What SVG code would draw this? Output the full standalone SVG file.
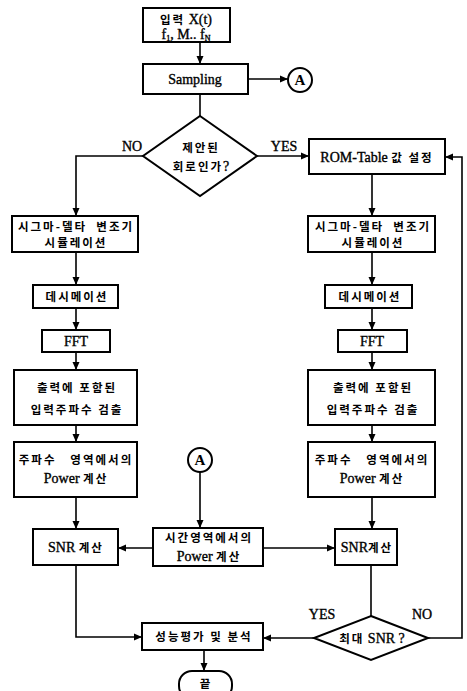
<svg xmlns="http://www.w3.org/2000/svg" width="467" height="691" viewBox="0 0 467 691">
<style>
.box{fill:#fff;stroke:#000;stroke-width:2}
.ln{fill:none;stroke:#000;stroke-width:1.6}
.t{font-family:'Liberation Serif','Noto Sans CJK KR',serif;font-size:14px;fill:#000;stroke:#000;stroke-width:0.35;text-anchor:middle}
.k{font-family:'Noto Sans CJK KR',sans-serif;font-weight:bold;font-size:11.5px;letter-spacing:2px;stroke-width:0}
.lb{font-family:'Liberation Serif',serif;font-size:15px;font-weight:bold;fill:#000;text-anchor:middle}
</style>
<defs>
<marker id="ah" markerUnits="userSpaceOnUse" markerWidth="9" markerHeight="8" refX="8" refY="4" orient="auto">
<path d="M0,0.5 L8,4 L0,7.5 z" fill="#000"/>
</marker>
</defs>
<g id="connectors">
<path class="ln" d="M200,42 V64" marker-end="url(#ah)"/>
<path class="ln" d="M248,79 H288" marker-end="url(#ah)"/>
<path class="ln" d="M200,94 V116"/>
<path class="ln" d="M143,156 H76 V216" marker-end="url(#ah)"/>
<path class="ln" d="M257,156 H309" marker-end="url(#ah)"/>
<path class="ln" d="M372,174 V216" marker-end="url(#ah)"/>
<path class="ln" d="M76,252 V285" marker-end="url(#ah)"/>
<path class="ln" d="M372,252 V285" marker-end="url(#ah)"/>
<path class="ln" d="M76,308 V330" marker-end="url(#ah)"/>
<path class="ln" d="M372,308 V330" marker-end="url(#ah)"/>
<path class="ln" d="M76,352 V370" marker-end="url(#ah)"/>
<path class="ln" d="M372,352 V370" marker-end="url(#ah)"/>
<path class="ln" d="M76,425 V442" marker-end="url(#ah)"/>
<path class="ln" d="M372,425 V442" marker-end="url(#ah)"/>
<path class="ln" d="M76,497 V529" marker-end="url(#ah)"/>
<path class="ln" d="M372,497 V529" marker-end="url(#ah)"/>
<path class="ln" d="M200,472 V528" marker-end="url(#ah)"/>
<path class="ln" d="M153,548 H118" marker-end="url(#ah)"/>
<path class="ln" d="M263,548 H335" marker-end="url(#ah)"/>
<path class="ln" d="M371,565 V616"/>
<path class="ln" d="M314,638 H263" marker-end="url(#ah)"/>
<path class="ln" d="M428,638 H462 V157 H445" marker-end="url(#ah)"/>
<path class="ln" d="M76,565 V637 H142" marker-end="url(#ah)"/>
<path class="ln" d="M204,650 V671" marker-end="url(#ah)"/>
</g>
<g id="input">
<rect class="box" x="143" y="8" width="87" height="34"/>
<text class="t" x="186" y="24"><tspan class="k">입력</tspan> X(t)</text>
<text class="t" x="186" y="39" font-size="12">f<tspan font-size="8" dy="2">1</tspan><tspan dy="-2">, M.. f</tspan><tspan font-size="8" dy="2">N</tspan></text>
</g>
<g id="sampling">
<rect class="box" x="143" y="64" width="105" height="30"/>
<text class="t" x="195" y="84">Sampling</text>
</g>
<g id="connA-top">
<circle class="box" cx="300" cy="80" r="12"/>
<text class="lb" x="300" y="85">A</text>
</g>
<g id="decision1">
<polygon class="box" points="200,116 257,156 200,196 143,156"/>
<text class="t" x="201" y="152"><tspan class="k">제안된</tspan></text>
<text class="t" x="201" y="171"><tspan class="k">회로인가</tspan>?</text>
<text class="t" x="132" y="151">NO</text>
<text class="t" x="284" y="151">YES</text>
</g>
<g id="rom">
<rect class="box" x="309" y="139" width="136" height="35"/>
<text class="t" x="377" y="162">ROM-Table <tspan class="k">값 설정</tspan></text>
</g>
<g id="sigma-left">
<rect class="box" x="12" y="216" width="126" height="36"/>
<text class="t" x="76" y="231" xml:space="preserve"><tspan class="k">시그마-델타  변조기</tspan></text>
<text class="t" x="76" y="247"><tspan class="k" letter-spacing="3">시뮬레이션</tspan></text>
</g>
<g id="sigma-right">
<rect class="box" x="308" y="216" width="127" height="36"/>
<text class="t" x="373" y="231" xml:space="preserve"><tspan class="k">시그마-델타  변조기</tspan></text>
<text class="t" x="373" y="247"><tspan class="k" letter-spacing="3">시뮬레이션</tspan></text>
</g>
<g id="dec-left">
<rect class="box" x="33" y="285" width="85" height="23"/>
<text class="t" x="77" y="301"><tspan class="k" letter-spacing="3">데시메이션</tspan></text>
</g>
<g id="dec-right">
<rect class="box" x="325" y="285" width="87" height="23"/>
<text class="t" x="370" y="301"><tspan class="k" letter-spacing="3">데시메이션</tspan></text>
</g>
<g id="fft-left">
<rect class="box" x="42" y="330" width="68" height="22"/>
<text class="t" x="76" y="346">FFT</text>
</g>
<g id="fft-right">
<rect class="box" x="338" y="330" width="69" height="22"/>
<text class="t" x="372" y="346">FFT</text>
</g>
<g id="detect-left">
<rect class="box" x="14" y="370" width="123" height="55"/>
<text class="t" x="77" y="392"><tspan class="k">출력에 포함된</tspan></text>
<text class="t" x="77" y="414"><tspan class="k">입력주파수 검출</tspan></text>
</g>
<g id="detect-right">
<rect class="box" x="308" y="370" width="127" height="55"/>
<text class="t" x="373" y="392"><tspan class="k">출력에 포함된</tspan></text>
<text class="t" x="373" y="414"><tspan class="k">입력주파수 검출</tspan></text>
</g>
<g id="fpower-left">
<rect class="box" x="14" y="442" width="123" height="55"/>
<text class="t" x="76" y="464" xml:space="preserve"><tspan class="k" letter-spacing="1">주파수   영역에서의</tspan></text>
<text class="t" x="76" y="483">Power <tspan class="k">계산</tspan></text>
</g>
<g id="fpower-right">
<rect class="box" x="308" y="442" width="127" height="55"/>
<text class="t" x="372" y="464" xml:space="preserve"><tspan class="k" letter-spacing="1">주파수   영역에서의</tspan></text>
<text class="t" x="372" y="483">Power <tspan class="k">계산</tspan></text>
</g>
<g id="connA-mid">
<circle class="box" cx="200" cy="460" r="12"/>
<text class="lb" x="200" y="465">A</text>
</g>
<g id="snr-left">
<rect class="box" x="33" y="529" width="85" height="36"/>
<text class="t" x="76" y="552">SNR <tspan class="k">계산</tspan></text>
</g>
<g id="tpower">
<rect class="box" x="153" y="528" width="110" height="38"/>
<text class="t" x="209" y="542"><tspan class="k" letter-spacing="1">시간영역에서의</tspan></text>
<text class="t" x="209" y="561">Power <tspan class="k">계산</tspan></text>
</g>
<g id="snr-right">
<rect class="box" x="335" y="529" width="62" height="36"/>
<text class="t" x="367" y="552">SNR<tspan class="k">계산</tspan></text>
</g>
<g id="decision2">
<polygon class="box" points="371,616 428,638 371,660 314,638"/>
<text class="t" x="372" y="643"><tspan class="k">최대</tspan> SNR ?</text>
<text class="t" x="322" y="619">YES</text>
<text class="t" x="422" y="619">NO</text>
</g>
<g id="eval">
<rect class="box" x="142" y="623" width="121" height="27"/>
<text class="t" x="204" y="641"><tspan class="k" letter-spacing="2.5">성능평가 및 분석</tspan></text>
</g>
<g id="end">
<rect class="box" x="179" y="671" width="53" height="28" rx="13"/>
<text class="t" x="206" y="688"><tspan class="k">끝</tspan></text>
</g>
</svg>
